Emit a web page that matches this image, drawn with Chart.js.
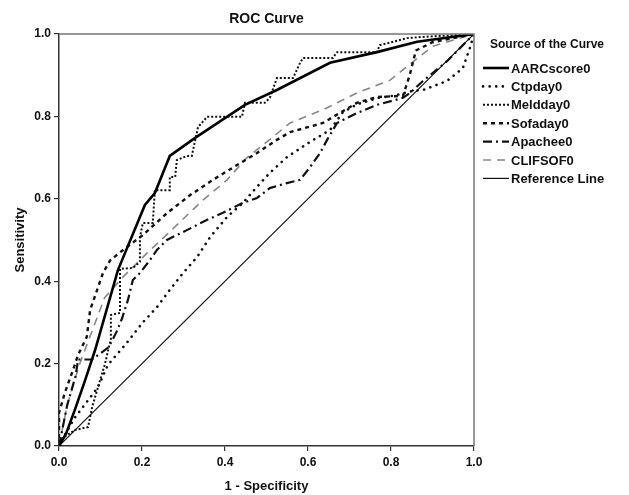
<!DOCTYPE html>
<html>
<head>
<meta charset="utf-8">
<script src="https://cdn.jsdelivr.net/npm/chart.js@4.4.0/dist/chart.umd.min.js"></script>
<style>
  html, body { margin: 0; padding: 0; background: #fff; }
  #wrap { width: 629px; height: 495px; }
</style>
</head>
<body>
<div id="wrap"><canvas id="roc" width="629" height="495"></canvas></div>
<script>
// curve names, as in the legend
const curveNames = ['AARCscore0', 'Ctpday0', 'Meldday0', 'Sofaday0', 'Apachee0', 'CLIFSOF0', 'Reference Line'];
const axisTicks = [0.0, 0.2, 0.4, 0.6, 0.8, 1.0];

// 1 - specificity / sensitivity
const aarcX = [0, 0.017, 0.039, 0.063, 0.087, 0.142, 0.207, 0.231, 0.267, 0.328, 0.448, 0.525, 0.653, 0.766, 0.863, 1];
const aarcY = [0, 0.03, 0.09, 0.16, 0.233, 0.427, 0.585, 0.614, 0.704, 0.748, 0.828, 0.864, 0.93, 0.956, 0.981, 1];

const ctpX = [0, 0.007, 0.039, 0.067, 0.094, 0.118, 0.159, 0.202, 0.236, 0.267, 0.299, 0.333, 0.364, 0.405, 0.443, 0.477, 0.508, 0.549, 0.6, 0.653, 0.684, 0.72, 0.77, 0.805, 0.853, 0.877, 0.935, 0.973, 0.99, 1];
const ctpY = [0, 0.015, 0.07, 0.107, 0.143, 0.197, 0.245, 0.3, 0.337, 0.379, 0.42, 0.459, 0.507, 0.556, 0.59, 0.629, 0.663, 0.701, 0.735, 0.767, 0.81, 0.83, 0.845, 0.85, 0.862, 0.864, 0.886, 0.917, 0.966, 1];

const meldX = [0, 0.002, 0.039, 0.07, 0.08, 0.094, 0.111, 0.125, 0.125, 0.147, 0.147, 0.178, 0.195, 0.195, 0.202, 0.226, 0.231, 0.267, 0.267, 0.28, 0.284, 0.308, 0.32, 0.335, 0.357, 0.441, 0.448, 0.496, 0.508, 0.525, 0.564, 0.581, 0.588, 0.66, 0.67, 0.766, 0.773, 0.839, 0.877, 1];
const meldY = [0, 0.015, 0.039, 0.046, 0.095, 0.143, 0.2, 0.26, 0.318, 0.323, 0.43, 0.432, 0.447, 0.507, 0.541, 0.541, 0.621, 0.621, 0.653, 0.653, 0.694, 0.704, 0.704, 0.774, 0.799, 0.799, 0.833, 0.833, 0.845, 0.893, 0.893, 0.93, 0.942, 0.942, 0.956, 0.956, 0.973, 0.99, 0.993, 1];

const sofaX = [0, 0, 0.014, 0.031, 0.046, 0.067, 0.075, 0.106, 0.123, 0.147, 0.202, 0.26, 0.316, 0.371, 0.429, 0.477, 0.525, 0.557, 0.636, 0.718, 0.766, 0.829, 0.845, 0.86, 0.9, 1];
const sofaY = [0, 0.08, 0.129, 0.177, 0.221, 0.265, 0.33, 0.42, 0.45, 0.47, 0.512, 0.565, 0.609, 0.646, 0.682, 0.711, 0.743, 0.762, 0.784, 0.833, 0.847, 0.85, 0.9, 0.96, 0.98, 1];

const apacheX = [0, 0.02, 0.04, 0.046, 0.08, 0.12, 0.14, 0.152, 0.166, 0.178, 0.195, 0.219, 0.236, 0.26, 0.308, 0.357, 0.395, 0.443, 0.477, 0.508, 0.549, 0.581, 0.605, 0.629, 0.646, 0.67, 0.718, 0.766, 0.829, 0.846, 0.877, 0.935, 0.99, 1];
const apacheY = [0, 0.1, 0.17, 0.21, 0.21, 0.24, 0.28, 0.31, 0.354, 0.403, 0.42, 0.451, 0.476, 0.5, 0.524, 0.549, 0.566, 0.59, 0.602, 0.626, 0.638, 0.646, 0.677, 0.711, 0.743, 0.784, 0.808, 0.828, 0.845, 0.857, 0.886, 0.934, 0.99, 1];

const clifX = [0, 0.02, 0.05, 0.08, 0.11, 0.154, 0.212, 0.267, 0.347, 0.405, 0.453, 0.557, 0.636, 0.718, 0.798, 0.85, 0.9, 1];
const clifY = [0, 0.1, 0.2, 0.28, 0.36, 0.41, 0.468, 0.52, 0.597, 0.646, 0.70, 0.784, 0.816, 0.857, 0.888, 0.93, 0.97, 1];

const refX = [0, 1];
const refY = [0, 1];

const toPoints = (xs, ys) => xs.map((x, i) => ({ x: x, y: ys[i] }));

const FONT = "'Liberation Sans', Arial, sans-serif";

const makeSet = (label, xs, ys, color, width, dash, cap) => ({
  label: label,
  data: toPoints(xs, ys),
  showLine: true,
  borderColor: color,
  backgroundColor: color,
  borderWidth: width,
  borderDash: dash,
  borderCapStyle: cap || 'butt',
  pointRadius: 0,
  tension: 0
});

// top + right edge of the plot frame
const framePlugin = {
  id: 'frame',
  afterDatasetsDraw(chart) {
    const a = chart.chartArea;
    const ctx = chart.ctx;
    ctx.save();
    ctx.strokeStyle = '#777';
    ctx.lineWidth = 1.5;
    ctx.beginPath();
    ctx.moveTo(a.left, a.top);
    ctx.lineTo(a.right, a.top);
    ctx.lineTo(a.right, a.bottom);
    ctx.stroke();
    ctx.restore();
  }
};

// legend box on the right, SPSS style
const legendPlugin = {
  id: 'spssLegend',
  afterDraw(chart) {
    const ctx = chart.ctx;
    ctx.save();
    ctx.fillStyle = '#111';
    ctx.font = 'bold 12px ' + FONT;
    ctx.textBaseline = 'middle';
    ctx.fillText('Source of the Curve', 490, 45);
    ctx.font = 'bold 13px ' + FONT;
    chart.data.datasets.forEach((ds, i) => {
      const y = 68 + i * 18.4;
      ctx.save();
      ctx.strokeStyle = ds.borderColor;
      ctx.lineWidth = ds.borderWidth;
      ctx.lineCap = ds.borderCapStyle;
      ctx.setLineDash(ds.borderDash || []);
      ctx.beginPath();
      ctx.moveTo(483, y);
      ctx.lineTo(509, y);
      ctx.stroke();
      ctx.restore();
      ctx.fillText(ds.label, 511, y + 1);
    });
    ctx.restore();
  }
};

new Chart(document.getElementById('roc'), {
  type: 'scatter',
  data: {
    datasets: [
      makeSet(curveNames[0], aarcX, aarcY, '#000', 2.6, []),
      makeSet(curveNames[1], ctpX, ctpY, '#111', 2.6, [0.1, 6.5], 'round'),
      makeSet(curveNames[2], meldX, meldY, '#111', 2, [2, 2]),
      makeSet(curveNames[3], sofaX, sofaY, '#111', 2.4, [4, 4]),
      makeSet(curveNames[4], apacheX, apacheY, '#111', 2.2, [9, 4, 2, 4]),
      makeSet(curveNames[5], clifX, clifY, '#888', 1.6, [8, 6]),
      makeSet(curveNames[6], refX, refY, '#111', 1.2, [])
    ]
  },
  options: {
    responsive: false,
    animation: false,
    layout: { padding: { top: 0, right: 155, left: 0, bottom: 0 } },
    plugins: {
      legend: { display: false },
      tooltip: { enabled: false },
      title: {
        display: true,
        text: 'ROC Curve',
        fullSize: false,
        color: '#111',
        font: { family: FONT, size: 14, weight: 'bold' },
        padding: { top: 11, bottom: 6.2 }
      }
    },
    scales: {
      x: {
        type: 'linear',
        min: 0,
        max: 1,
        afterBuildTicks: (s) => { s.ticks = axisTicks.map(v => ({ value: v })); },
        afterFit: (s) => { s.height = 49; },
        grid: { drawOnChartArea: false, drawTicks: true, tickLength: 5, color: '#333', lineWidth: 1.2 },
        border: { color: '#333', width: 1.5 },
        ticks: {
          color: '#111',
          padding: 4,
          maxRotation: 0,
          font: { family: FONT, size: 12, weight: 'bold' },
          callback: (v) => Number(v).toFixed(1)
        },
        title: {
          display: true,
          text: '1 - Specificity',
          color: '#111',
          font: { family: FONT, size: 13, weight: 'bold' },
          padding: { top: 4, bottom: 1 }
        }
      },
      y: {
        type: 'linear',
        min: 0,
        max: 1,
        afterBuildTicks: (s) => { s.ticks = axisTicks.map(v => ({ value: v })); },
        afterFit: (s) => { s.width = 59; },
        grid: { drawOnChartArea: false, drawTicks: true, tickLength: 5, color: '#333', lineWidth: 1.2 },
        border: { color: '#333', width: 1.5 },
        ticks: {
          color: '#111',
          padding: 3,
          font: { family: FONT, size: 12, weight: 'bold' },
          callback: (v) => Number(v).toFixed(1)
        },
        title: {
          display: true,
          text: 'Sensitivity',
          color: '#111',
          font: { family: FONT, size: 13, weight: 'bold' },
          padding: { top: 13, bottom: 2 }
        }
      }
    }
  },
  plugins: [framePlugin, legendPlugin]
});
</script>
</body>
</html>
